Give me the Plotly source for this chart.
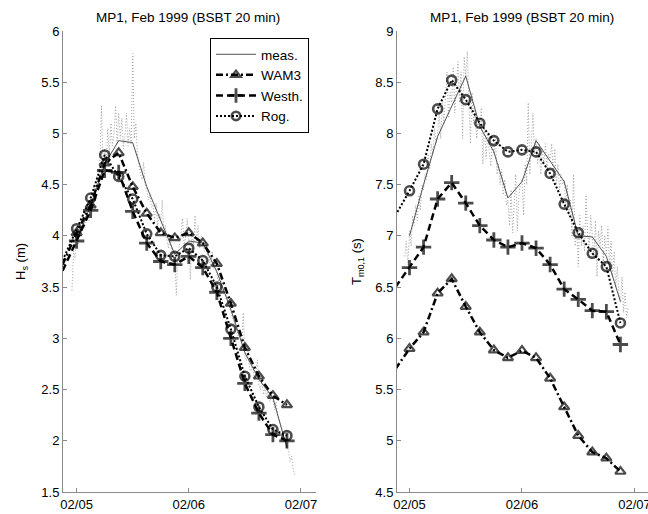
import plotly.graph_objects as go
import pandas as pd

# ---------------- data ----------------
title_text = "MP1, Feb 1999 (BSBT 20 min)"
x_tick_labels = ["02/05", "02/06", "02/07"]
x_tick_dates = ["1999-02-05", "1999-02-06", "1999-02-07"]

# model output every 3 h, 02/04 21:00 .. 02/06 21:00
model_times = pd.date_range("1999-02-04 21:00", "1999-02-06 21:00", freq="3h")
# 3-hourly measured, 02/05 00:00 .. 02/06 21:00
meas_times = pd.date_range("1999-02-05 00:00", "1999-02-06 21:00", freq="3h")

hs_wam3 = [3.72, 4.03, 4.30, 4.71, 4.81, 4.48, 4.22, 4.03, 3.98, 4.03, 3.93, 3.73, 3.34, 2.91, 2.63, 2.44, 2.35]
hs_westh = [3.66, 3.95, 4.25, 4.64, 4.62, 4.24, 3.93, 3.75, 3.72, 3.80, 3.69, 3.45, 3.00, 2.56, 2.27, 2.06, 2.00]
hs_rog = [3.76, 4.07, 4.37, 4.79, 4.58, 4.36, 4.02, 3.81, 3.80, 3.88, 3.76, 3.50, 3.09, 2.63, 2.33, 2.11, 2.05]
hs_meas = [3.95, 4.30, 4.70, 4.93, 4.91, 4.48, 4.15, 3.82, 3.95, 3.93, 3.65, 3.28, 2.86, 2.60, 2.42, 1.93]

tm_wam3 = [5.70, 5.90, 6.06, 6.44, 6.58, 6.31, 6.06, 5.885, 5.81, 5.88, 5.81, 5.61, 5.33, 5.05, 4.89, 4.83, 4.70]
tm_westh = [6.50, 6.69, 6.89, 7.36, 7.52, 7.32, 7.10, 6.96, 6.89, 6.93, 6.88, 6.72, 6.48, 6.38, 6.27, 6.26, 5.94]
tm_rog = [7.20, 7.44, 7.70, 8.24, 8.52, 8.33, 8.10, 7.93, 7.82, 7.84, 7.82, 7.61, 7.31, 7.03, 6.83, 6.70, 6.15]
tm_meas = [7.00, 7.50, 7.97, 8.27, 8.56, 8.07, 7.82, 7.37, 7.53, 7.93, 7.73, 7.53, 7.00, 6.99, 6.80, 6.36]

# raw 20-min measurements starting 02/04 23:00
hs_raw = [3.47, 3.85, 3.78,
          4.05, 3.92, 4.12, 4.00, 4.22, 4.08, 4.18, 4.30, 4.15,
          4.35, 4.28, 4.50, 4.42, 4.58, 4.50, 4.78, 5.27, 4.60,
          4.85, 4.70, 5.05, 4.80, 5.10, 4.88, 5.00, 5.27, 4.90,
          5.20, 4.95, 5.15, 4.85, 4.98, 5.20, 4.88, 5.05, 4.90,
          5.78, 4.95, 5.10, 4.80, 4.70, 4.60, 4.55, 4.72, 4.50,
          4.45, 4.35, 4.40, 4.28, 4.30, 4.15, 4.32, 4.10, 4.22,
          4.15, 4.35, 4.00, 4.10, 3.95, 3.88, 4.00, 3.85, 3.80,
          3.75, 3.42, 3.85, 3.90, 4.05, 4.17, 3.90, 4.00, 4.17,
          3.95, 3.57, 4.05, 3.90, 4.20, 3.95, 4.10, 3.88, 4.00,
          3.93, 3.85, 3.95, 3.80, 3.78, 3.70, 3.85, 3.68, 3.70,
          3.62, 3.55, 3.62, 3.50, 3.45, 3.48, 3.38, 3.35, 3.30,
          3.27, 3.20, 3.15, 3.12, 3.08, 3.00, 3.02, 2.95, 3.25,
          2.82, 2.78, 2.90, 2.70, 2.68, 2.75, 2.60, 2.62, 2.79,
          2.55, 2.50, 2.60, 2.45, 2.52, 2.42, 2.50, 2.38, 2.45,
          2.40, 2.30, 2.38, 2.25, 2.20, 2.15, 2.10, 2.05, 2.00,
          1.93, 1.90, 1.80, 1.85, 1.72, 1.67]
tm_raw = [6.80, 6.95, 6.72,
          7.05, 6.90, 7.20, 7.10, 7.30, 7.15, 7.40, 7.25, 7.50,
          7.45, 7.60, 7.55, 7.80, 7.65, 7.90, 7.80, 8.05, 7.90,
          8.00, 8.20, 7.95, 8.30, 8.10, 8.35, 8.60, 8.15, 8.40,
          8.30, 8.65, 8.20, 8.45, 8.70, 8.30, 8.60, 7.95, 8.75,
          8.55, 8.80, 8.30, 7.90, 8.40, 8.10, 8.25, 7.95, 8.15,
          8.05, 8.25, 7.70, 8.10, 7.75, 8.00, 7.85, 7.68, 7.90,
          7.80, 7.95, 7.60, 7.70, 7.50, 7.65, 7.40, 7.55, 7.30,
          7.35, 7.10, 7.45, 7.03, 7.30, 7.60, 7.05, 7.40, 7.50,
          7.55, 7.20, 7.70, 7.50, 8.30, 7.60, 7.90, 8.20, 7.80,
          7.95, 7.70, 7.90, 7.60, 7.85, 7.70, 7.90, 7.65, 7.80,
          7.75, 7.90, 7.60, 7.85, 7.50, 7.70, 7.45, 7.60, 7.50,
          7.55, 7.30, 7.50, 7.20, 7.35, 7.00, 7.60, 6.90, 7.10,
          6.70, 7.20, 6.90, 7.10, 6.85, 7.40, 7.00, 6.90, 7.20,
          7.00, 6.80, 7.15, 6.60, 7.05, 6.90, 7.10, 6.75, 7.00,
          6.80, 7.09, 6.70, 6.95, 6.60, 6.85, 6.50, 6.70, 6.45,
          6.35, 6.60, 6.25, 6.45, 6.20, 6.30]

hs_raw_times = pd.date_range("1999-02-04 23:00", periods=len(hs_raw), freq="20min")
tm_raw_times = pd.date_range("1999-02-04 23:00", periods=len(tm_raw), freq="20min")

# ---------------- figure ----------------
W, H = 648, 514
ML, MR, MT, MB = 0, 0, 31, 22
FONT = "Liberation Sans, Arial, sans-serif"

fig = go.Figure()

msize_model = [0] + [9] * (len(model_times) - 1)
msize_plus = [0] + [11] * (len(model_times) - 1)


def add_panel(xa, ya, raw_t, raw_v, meas_v, wam, west, rog, show):
    fig.add_trace(go.Scatter(x=raw_t, y=raw_v, mode="lines", xaxis=xa, yaxis=ya,
                             line=dict(color="#a0a0a0", width=1, dash="1px,2px"),
                             showlegend=False, hoverinfo="skip"))
    fig.add_trace(go.Scatter(x=meas_times, y=meas_v, mode="lines", xaxis=xa, yaxis=ya,
                             name="meas.", legendrank=1,
                             line=dict(color="#404040", width=0.9), showlegend=show))
    fig.add_trace(go.Scatter(x=model_times, y=wam, mode="lines+markers", xaxis=xa, yaxis=ya,
                             name="WAM3", legendrank=2,
                             line=dict(color="black", width=2.5, dash="7px,3px,2px,3px"),
                             marker=dict(symbol="triangle-up-open", size=msize_model, color="black",
                                         line=dict(width=2.2, color="black")),
                             showlegend=show))
    fig.add_trace(go.Scatter(x=model_times, y=west, mode="lines+markers", xaxis=xa, yaxis=ya,
                             name="Westh.", legendrank=3,
                             line=dict(color="black", width=2.5, dash="7px,4px"),
                             marker=dict(symbol="cross-thin-open", size=msize_plus, color="black",
                                         line=dict(width=2.8, color="black")),
                             showlegend=show))
    fig.add_trace(go.Scatter(x=model_times, y=rog, mode="lines+markers", xaxis=xa, yaxis=ya,
                             name="Rog.", legendrank=4,
                             line=dict(color="black", width=2, dash="2px,2px"),
                             marker=dict(symbol="circle-open", size=msize_model, color="black",
                                         line=dict(width=2.6, color="black")),
                             showlegend=show))


add_panel("x", "y", hs_raw_times, hs_raw, hs_meas, hs_wam3, hs_westh, hs_rog, True)
add_panel("x2", "y2", tm_raw_times, tm_raw, tm_meas, tm_wam3, tm_westh, tm_rog, False)

plot_h = H - MT - MB


def px_x(p):
    return (p - ML) / (W - ML - MR)


def px_y(p):
    return (H - MB - p) / plot_h


axis_common = dict(showgrid=False, zeroline=False, showline=True, linecolor="#8a8a8a",
                   linewidth=1, ticks="inside", ticklen=4, tickcolor="#8a8a8a",
                   tickfont=dict(family=FONT, size=13, color="black"), mirror=False,
                   ticklabeloverflow="allow")

fig.update_layout(
    width=W, height=H,
    margin=dict(l=ML, r=MR, t=MT, b=MB, autoexpand=False),
    paper_bgcolor="white", plot_bgcolor="white",
    font=dict(family=FONT, size=13, color="black"),
    xaxis=dict(domain=[px_x(63), px_x(316)], anchor="y", type="date",
               range=["1999-02-04 21:05", "1999-02-07 03:13"],
               tickvals=x_tick_dates, ticktext=x_tick_labels, **axis_common),
    yaxis=dict(domain=[0, 1], anchor="x", range=[1.5, 6], dtick=0.5, **axis_common),
    xaxis2=dict(domain=[px_x(397), 1.0], anchor="y2", type="date",
                range=["1999-02-04 21:20", "1999-02-07 02:53"],
                tickvals=x_tick_dates, ticktext=x_tick_labels, **axis_common),
    yaxis2=dict(domain=[0, 1], anchor="x2", range=[4.5, 9], dtick=0.5, **axis_common),
    legend=dict(x=px_x(210), y=px_y(38), xanchor="left", yanchor="top",
                bgcolor="white", bordercolor="black", borderwidth=1,
                font=dict(family=FONT, size=13.5), tracegroupgap=0,
                itemwidth=40),
    showlegend=True,
    annotations=[
        dict(text=title_text, x=px_x(188), y=px_y(17), xref="paper", yref="paper",
             showarrow=False, xanchor="center", yanchor="middle",
             font=dict(family=FONT, size=13.5)),
        dict(text=title_text, x=px_x(522), y=px_y(17), xref="paper", yref="paper",
             showarrow=False, xanchor="center", yanchor="middle",
             font=dict(family=FONT, size=13.5)),
        dict(text="H<sub>s</sub> (m)", x=px_x(21), y=px_y(262), xref="paper", yref="paper",
             showarrow=False, xanchor="center", yanchor="middle", textangle=-90,
             font=dict(family=FONT, size=13)),
        dict(text="T<sub>m0,1</sub> (s)", x=px_x(357), y=px_y(262), xref="paper", yref="paper",
             showarrow=False, xanchor="center", yanchor="middle", textangle=-90,
             font=dict(family=FONT, size=13)),
    ],
)

fig.write_html("out.html", config={"displayModeBar": False},
               post_script="document.body.style.margin='0';document.body.style.padding='0';")
